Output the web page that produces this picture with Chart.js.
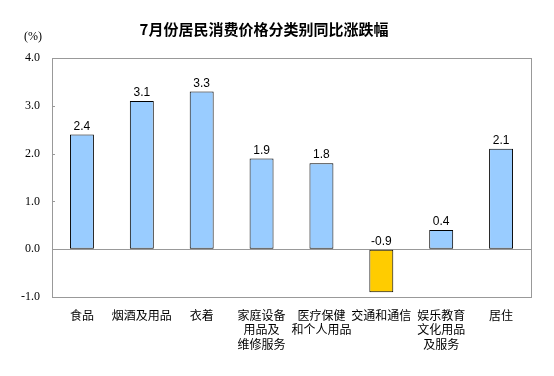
<!DOCTYPE html>
<html lang="zh">
<head>
<meta charset="UTF-8">
<title>7月份居民消费价格分类别同比涨跌幅</title>
<script src="https://cdn.jsdelivr.net/npm/chart.js"></script>
<style>
  html, body { margin: 0; padding: 0; background: #fff; }
  #wrap { width: 554px; height: 376px; }
</style>
</head>
<body>
<div id="wrap"><canvas id="cpiChart" width="554" height="376"></canvas></div>
<script>
// categories and values
const categories = [
  ['食品'],
  ['烟酒及用品'],
  ['衣着'],
  ['家庭设备', '用品及', '维修服务'],
  ['医疗保健', '和个人用品'],
  ['交通和通信'],
  ['娱乐教育', '文化用品', '及服务'],
  ['居住']
];
const values = [2.4, 3.1, 3.3, 1.9, 1.8, -0.9, 0.4, 2.1];
const yTicks = [-1.0, 0.0, 1.0, 2.0, 3.0, 4.0];

const chartTitle = '7月份居民消费价格分类别同比涨跌幅';
const unitLabel = '(%)';

const cjkFont = '"Noto Sans CJK SC", "Noto Sans", sans-serif';
const serifFont = '"Liberation Serif", "DejaVu Serif", serif';
const labelFont = '"Liberation Sans", Arial, sans-serif';

// frame, title, tick marks and value labels
const decorations = {
  id: 'decorations',
  afterDraw(chart) {
    const ctx = chart.ctx;
    const area = chart.chartArea;
    const y = chart.scales.y;
    ctx.save();

    // plot box
    ctx.strokeStyle = '#999';
    ctx.lineWidth = 1;
    ctx.strokeRect(Math.round(area.left) + 0.5, Math.round(area.top) + 0.5,
      Math.round(area.right - area.left), Math.round(area.bottom - area.top));

    // short inward tick marks
    yTicks.forEach(t => {
      const py = Math.round(y.getPixelForValue(t)) + 0.5;
      ctx.beginPath();
      ctx.moveTo(area.left, py);
      ctx.lineTo(area.left + 3, py);
      ctx.stroke();
    });

    // title
    ctx.fillStyle = '#000';
    ctx.font = 'bold 15px ' + cjkFont;
    ctx.textAlign = 'center';
    ctx.textBaseline = 'middle';
    ctx.fillText(chartTitle, 264, 29);

    // unit
    ctx.font = '12px ' + serifFont;
    ctx.fillText(unitLabel, 33, 37);

    // value labels
    ctx.font = '12px ' + labelFont;
    ctx.textBaseline = 'bottom';
    const meta = chart.getDatasetMeta(0);
    meta.data.forEach((bar, i) => {
      const top = Math.min(bar.y, bar.base);
      ctx.fillText(values[i].toFixed(1), bar.x, top - 2);
    });
    ctx.restore();
  }
};

const ctx = document.getElementById('cpiChart').getContext('2d');
new Chart(ctx, {
  type: 'bar',
  data: {
    labels: categories,
    datasets: [{
      data: values,
      backgroundColor: values.map(v => v < 0 ? '#FFCC00' : '#99CCFF'),
      borderColor: '#000',
      borderWidth: 1,
      borderSkipped: false,
      categoryPercentage: 1,
      barPercentage: 0.4
    }]
  },
  options: {
    responsive: false,
    animation: false,
    layout: { padding: { top: 58, right: 23, left: 0, bottom: 0 } },
    plugins: {
      legend: { display: false },
      tooltip: { enabled: false }
    },
    scales: {
      x: {
        grid: { display: false, drawTicks: false },
        border: { display: false },
        ticks: {
          color: '#000',
          padding: 11,
          maxRotation: 0,
          autoSkip: false,
          font: { family: cjkFont, size: 12, lineHeight: 1.2 }
        },
        afterFit(scale) { scale.height = 79; }
      },
      y: {
        min: -1,
        max: 4,
        afterBuildTicks(scale) { scale.ticks = yTicks.map(v => ({ value: v })); },
        grid: {
          drawTicks: false,
          color: c => c.tick && c.tick.value === 0 ? '#999' : 'rgba(0,0,0,0)'
        },
        border: { display: false },
        ticks: {
          color: '#000',
          padding: 12,
          font: { family: serifFont, size: 12 },
          callback: v => Number(v).toFixed(1)
        },
        afterFit(scale) { scale.width = 52; }
      }
    }
  },
  plugins: [decorations]
});
</script>
</body>
</html>
